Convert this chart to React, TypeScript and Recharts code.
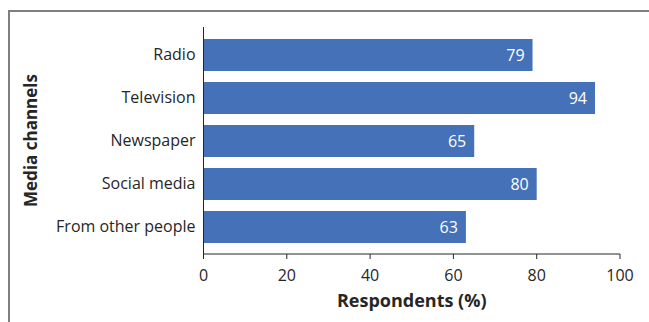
import React from "react";
import { BarChart, Bar, XAxis, YAxis, LabelList, Label } from "recharts";

// Media channels through which respondents heard the message
const channels = ["Radio", "Television", "Newspaper", "Social media", "From other people"];
const respondentShare = [79, 94, 65, 80, 63];
const percentTicks = [0, 20, 40, 60, 80, 100];

const rows = channels.map((name, i) => ({ name, value: respondentShare[i] }));

const FONT = "'Open Sans', 'Noto Sans', sans-serif";
const TEXT = "#262626";
const BAR = "#4571B8";

const YTitle = (props: any) => {
  const { viewBox } = props;
  const cy = viewBox.y + viewBox.height / 2;
  const cx = 30;
  return (
    <text
      x={cx}
      y={cy}
      transform={`rotate(-90, ${cx}, ${cy})`}
      textAnchor="middle"
      dominantBaseline="central"
      fontFamily={FONT}
      fontSize={17}
      fontWeight={700}
      fill={TEXT}
    >
      Media channels
    </text>
  );
};

const XTitle = (props: any) => {
  const { viewBox } = props;
  const cx = viewBox.x + viewBox.width / 2;
  return (
    <text
      x={cx}
      y={307}
      textAnchor="middle"
      fontFamily={FONT}
      fontSize={18}
      fontWeight={700}
      fill={TEXT}
    >
      Respondents (%)
    </text>
  );
};

export default function App() {
  return (
    <div
      style={{
        position: "absolute",
        left: 0,
        top: 0,
        width: 649,
        height: 322,
        overflow: "hidden",
        background: "#fff",
      }}
    >
      {/* frame around the chart area */}
      <div
        style={{
          position: "absolute",
          left: 8,
          top: 10,
          width: 700,
          height: 400,
          borderTop: "2px solid #7f7f7f",
          borderLeft: "2px solid #7f7f7f",
        }}
      />
      <div style={{ position: "absolute", left: 0, top: 0 }}>
        <BarChart
          width={649}
          height={322}
          data={rows}
          layout="vertical"
          margin={{ top: 27, right: 29, left: 13.5, bottom: 8 }}
          barSize={32}
        >
          <XAxis
            type="number"
            domain={[0, 100]}
            ticks={percentTicks}
            interval={0}
            height={60}
            axisLine={{ stroke: "#262626", strokeWidth: 1 }}
            tickLine={{ stroke: "#262626" }}
            tickSize={5}
            tickMargin={11}
            tick={{ fontFamily: FONT, fontSize: 16, fill: TEXT }}
          >
            <Label content={<XTitle />} />
          </XAxis>
          <YAxis
            type="category"
            dataKey="name"
            width={190}
            padding={{ top: 6, bottom: 6 }}
            axisLine={{ stroke: "#262626", strokeWidth: 1 }}
            tickLine={false}
            tickSize={0}
            tickMargin={8}
            interval={0}
            tick={{ fontFamily: FONT, fontSize: 16, fill: TEXT }}
          >
            <Label content={<YTitle />} />
          </YAxis>
          <Bar dataKey="value" fill={BAR} isAnimationActive={false}>
            <LabelList
              dataKey="value"
              position="insideRight"
              offset={8}
              fill="#ffffff"
              fontFamily={FONT}
              fontSize={16}
            />
          </Bar>
        </BarChart>
      </div>
    </div>
  );
}
